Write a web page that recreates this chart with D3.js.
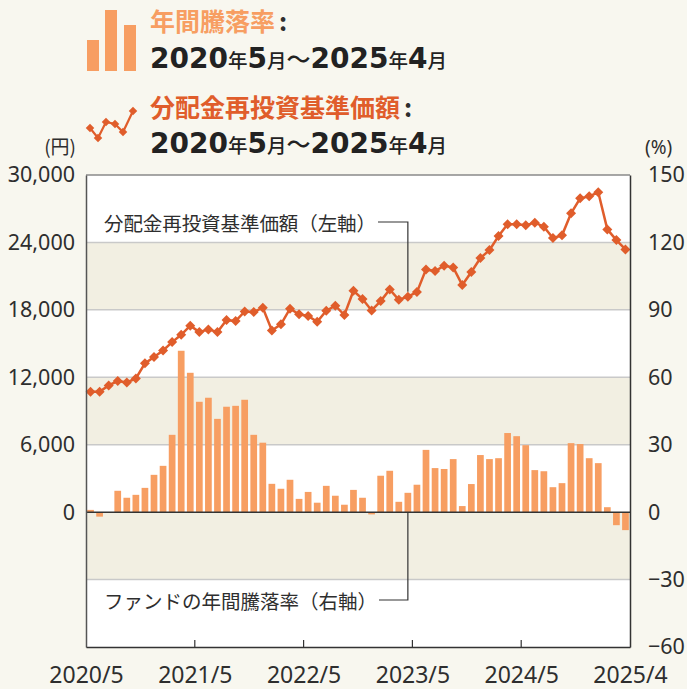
<!DOCTYPE html>
<html>
<head>
<meta charset="utf-8">
<script src="https://cdn.jsdelivr.net/npm/d3@7"></script>
<style>
  body { margin: 0; background: #f8f7ef; }
  svg { display: block; font-family: "Noto Sans", "Noto Sans CJK JP", sans-serif; }
</style>
</head>
<body>
<div id="chart"></div>
<script>
"use strict";

// x tick labels (first month, each May, last month)
const xTickLabels = ["2020/5", "2021/5", "2022/5", "2023/5", "2024/5", "2025/4"];
const xTickMonths = [0, 12, 24, 36, 48, 60];

// annual return of the fund, %, monthly from 2020/5 to 2025/4 (right axis)
const annualReturn = [
  1, -2, 0, 9.5, 6.4, 7.7, 10.8, 16.6, 20.6, 34.4,
  71.8, 62, 49.1, 50.9, 41.5, 46.9, 47.3, 50, 34.4, 30.9,
  12.6, 10.4, 14.4, 5.9, 9.0, 4.2, 11.7, 7.3, 3.3, 9.9,
  6.4, -1, 16.2, 18.4, 4.6, 8.6, 12.2, 27.7, 19.6, 19.2,
  23.6, 2.7, 12.5, 25.4, 23.6, 24.0, 35.2, 33.8, 29.8, 18.7,
  18.2, 11.1, 12.9, 30.7, 30.3, 24.0, 21.8, 2.2, -5.8, -8
];

// NAV with dividends reinvested, yen (left axis)
const navReinvested = [
  10710, 10710, 11280, 11660, 11540, 11900, 13240, 13800, 14390, 15130,
  15780, 16590, 16020, 16260, 16020, 17090, 17000, 17860, 17800, 18190,
  16170, 16710, 18100, 17600, 17450, 16940, 17920, 18370, 17540, 19700,
  18960, 17950, 18780, 19820, 18900, 19170, 19580, 21600, 21450, 21930,
  21780, 20210, 21370, 22610, 23320, 24570, 25610, 25610, 25520, 25760,
  25400, 24390, 24630, 26590, 27920, 28100, 28460, 25160, 24210, 23380
];

const leftTicks = [0, 6000, 12000, 18000, 24000, 30000];
const rightTicks = [-60, -30, 0, 30, 60, 90, 120, 150];

const W = 687, H = 689;
const plot = { left: 86, right: 630, top: 175, bottom: 647 };

const C = {
  bg: "#f8f7ef",
  band: "#f2efe2",
  grid: "#c9c9c9",
  bar: "#f79e62",
  line: "#e05d2b",
  text: "#2e2e2e"
};

const svg = d3.select("#chart").append("svg")
  .attr("width", W)
  .attr("height", H);

svg.append("rect").attr("width", W).attr("height", H).attr("fill", C.bg);

// scales
const xl = d3.scaleLinear().domain([0, 60]).range([plot.left, plot.right]);
const xb = d3.scaleBand().domain(d3.range(60)).range([plot.left, plot.right])
  .paddingInner(0.26).paddingOuter(0.13);
const yL = d3.scaleLinear().domain([-12000, 30000]).range([plot.bottom, plot.top]);
const yR = d3.scaleLinear().domain([-60, 150]).range([plot.bottom, plot.top]);

// plot background + bands
svg.append("rect")
  .attr("x", plot.left).attr("y", plot.top)
  .attr("width", plot.right - plot.left).attr("height", plot.bottom - plot.top)
  .attr("fill", "#fff");

const bands = [[18000, 24000], [6000, 12000], [-6000, 0]];
svg.append("g").selectAll("rect")
  .data(bands)
  .join("rect")
  .attr("x", plot.left)
  .attr("width", plot.right - plot.left)
  .attr("y", d => yL(d[1]))
  .attr("height", d => yL(d[0]) - yL(d[1]))
  .attr("fill", C.band);

// grid lines
svg.append("g").selectAll("line")
  .data([6000, 12000, 18000, 24000, -6000])
  .join("line")
  .attr("x1", plot.left).attr("x2", plot.right)
  .attr("y1", d => yL(d)).attr("y2", d => yL(d))
  .attr("stroke", C.grid)
  .attr("stroke-width", 1.5);

// bars
svg.append("g").selectAll("rect")
  .data(annualReturn)
  .join("rect")
  .attr("x", (d, i) => xb(i))
  .attr("width", xb.bandwidth())
  .attr("y", d => yR(Math.max(0, d)))
  .attr("height", d => Math.abs(yR(d) - yR(0)))
  .attr("fill", C.bar);

// zero line
svg.append("line")
  .attr("x1", plot.left).attr("x2", plot.right)
  .attr("y1", yR(0)).attr("y2", yR(0))
  .attr("stroke", "#333").attr("stroke-width", 1.5);

// callouts
const callX = xl(35.5);
const topCallY = 222, botCallY = 600;

svg.append("text")
  .attr("x", 104).attr("y", topCallY)
  .attr("dominant-baseline", "central")
  .attr("font-family", "'Noto Sans CJK JP', sans-serif")
  .attr("font-size", 19.5)
  .attr("textLength", 272)
  .attr("lengthAdjust", "spacing")
  .attr("fill", C.text)
  .text("分配金再投資基準価額（左軸）");

svg.append("path")
  .attr("d", `M378,${topCallY}H${callX}V${yL(navReinvested[35]) - 5}`)
  .attr("fill", "none").attr("stroke", "#333").attr("stroke-width", 1.2);

svg.append("text")
  .attr("x", 104).attr("y", botCallY)
  .attr("dominant-baseline", "central")
  .attr("font-family", "'Noto Sans CJK JP', sans-serif")
  .attr("font-size", 19.5)
  .attr("textLength", 273)
  .attr("lengthAdjust", "spacing")
  .attr("fill", C.text)
  .text("ファンドの年間騰落率（右軸）");

svg.append("path")
  .attr("d", `M379,${botCallY}H${callX}V${yR(0)}`)
  .attr("fill", "none").attr("stroke", "#333").attr("stroke-width", 1.2);

// NAV line
const line = d3.line()
  .x((d, i) => xl(i + 0.5))
  .y(d => yL(d));

svg.append("path")
  .datum(navReinvested)
  .attr("d", line)
  .attr("fill", "none")
  .attr("stroke", C.line)
  .attr("stroke-width", 2.5);

const diamond = d3.symbol(d3.symbolSquare, 50);
svg.append("g").selectAll("path")
  .data(navReinvested)
  .join("path")
  .attr("d", diamond)
  .attr("transform", (d, i) => `translate(${xl(i + 0.5)},${yL(d)}) rotate(45)`)
  .attr("fill", C.line);

// frame
svg.append("line")
  .attr("x1", plot.left).attr("x2", plot.right)
  .attr("y1", plot.top).attr("y2", plot.top)
  .attr("stroke", "#8a8a8a").attr("stroke-width", 1.5);

// axes
const axisLeft = d3.axisLeft(yL)
  .tickValues(leftTicks)
  .tickFormat(d3.format(","))
  .tickSize(0)
  .tickPadding(11);

const gl = svg.append("g")
  .attr("transform", `translate(${plot.left},0)`)
  .call(axisLeft);
gl.select(".domain").attr("stroke", "#555").attr("stroke-width", 1.5);

const axisRight = d3.axisRight(yR)
  .tickValues(rightTicks)
  .tickFormat(d3.format("d"))
  .tickSize(0)
  .tickPadding(18);

const gr = svg.append("g")
  .attr("transform", `translate(${plot.right},0)`)
  .call(axisRight);
gr.select(".domain").attr("stroke", "#333").attr("stroke-width", 1.5);

const axisBottom = d3.axisBottom(xl)
  .tickValues(xTickMonths)
  .tickFormat((d, i) => xTickLabels[i])
  .tickSize(0)
  .tickPadding(20);

const gb = svg.append("g")
  .attr("transform", `translate(0,${plot.bottom})`)
  .call(axisBottom);
gb.select(".domain").attr("stroke", "#333").attr("stroke-width", 1.5);

// small inner ticks at year boundaries
svg.append("g").selectAll("line")
  .data(xTickMonths.slice(1, -1))
  .join("line")
  .attr("x1", d => xl(d)).attr("x2", d => xl(d))
  .attr("y1", plot.bottom).attr("y2", plot.bottom - 7)
  .attr("stroke", "#333").attr("stroke-width", 1.2);

svg.selectAll(".tick text")
  .attr("fill", C.text)
  .attr("font-family", "'Noto Sans', sans-serif");
gl.selectAll(".tick text").attr("font-size", 21.5);
gr.selectAll(".tick text").attr("font-size", 21.5);
gb.selectAll(".tick text").attr("font-size", 23);

// unit labels
svg.append("text")
  .attr("x", 76).attr("y", 154)
  .attr("text-anchor", "end")
  .attr("font-family", "'Noto Sans CJK JP', sans-serif")
  .attr("font-size", 19)
  .attr("fill", C.text)
  .text("(円)");

svg.append("text")
  .attr("x", 645).attr("y", 154)
  .attr("font-family", "'Noto Sans', sans-serif")
  .attr("font-size", 19)
  .attr("fill", C.text)
  .text("(%)");

// legend: bar icon
const legendBars = [[87, 40], [105, 10], [124, 25]];
svg.append("g").selectAll("rect")
  .data(legendBars)
  .join("rect")
  .attr("x", d => d[0]).attr("y", d => d[1])
  .attr("width", 12).attr("height", d => 71 - d[1])
  .attr("fill", C.bar);

// legend: line icon
const legendPts = [[90, 128], [98, 138], [106, 122], [115, 124], [123, 132], [133, 111]];
svg.append("path")
  .attr("d", d3.line()(legendPts))
  .attr("fill", "none").attr("stroke", C.line).attr("stroke-width", 2.2);
svg.append("g").selectAll("path")
  .data(legendPts)
  .join("path")
  .attr("d", d3.symbol(d3.symbolSquare, 36))
  .attr("transform", d => `translate(${d[0]},${d[1]}) rotate(45)`)
  .attr("fill", C.line);

// legend text
function legendTitle(y, label, color) {
  const t = svg.append("text")
    .attr("x", 150).attr("y", y)
    .attr("font-family", "'Noto Sans CJK JP', sans-serif")
    .attr("font-weight", 700)
    .attr("font-size", 25);
  t.append("tspan").attr("fill", color).text(label);
  t.append("tspan").attr("fill", C.text).attr("dx", 4).text(":");
}

function legendPeriod(y) {
  const parts = [
    ["2020", true], ["年", false], ["5", true], ["月", false], ["〜", false],
    ["2025", true], ["年", false], ["4", true], ["月", false]
  ];
  const t = svg.append("text")
    .attr("x", 150).attr("y", y)
    .attr("fill", "#222")
    .attr("font-weight", 700);
  parts.forEach(p => {
    t.append("tspan")
      .attr("font-family", p[0] === "〜" || !p[1] ? "'Noto Sans CJK JP', sans-serif" : "'DejaVu Sans', sans-serif")
      .attr("font-size", p[1] ? 28 : (p[0] === "〜" ? 24 : 19.5))
      .attr("font-weight", p[1] ? 700 : 500)
      .text(p[0]);
  });
}

legendTitle(31, "年間騰落率", C.bar);
legendPeriod(68);
legendTitle(117, "分配金再投資基準価額", C.line);
legendPeriod(153);
</script>
</body>
</html>
